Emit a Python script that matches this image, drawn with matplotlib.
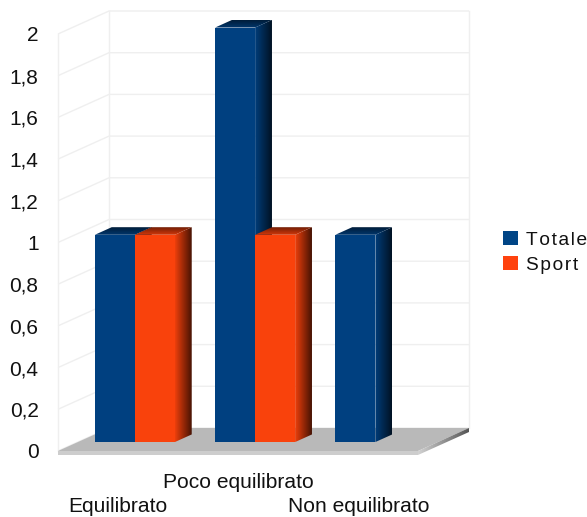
import matplotlib
matplotlib.use('Agg')
import matplotlib.pyplot as plt
import numpy as np
from matplotlib.colors import to_rgb
from matplotlib.patches import Patch, Polygon

plt.rcParams['font.family'] = ['Liberation Sans', 'DejaVu Sans']

categories = ['Equilibrato', 'Poco equilibrato', 'Non equilibrato']
series_names = ['Totale', 'Sport']
totale = [1, 2, 1]
sport = [1, 1, 0]
ticks = [0, 0.2, 0.4, 0.6, 0.8, 1, 1.2, 1.4, 1.6, 1.8, 2]
tick_labels = ['0', '0,2', '0,4', '0,6', '0,8', '1', '1,2', '1,4', '1,6', '1,8', '2']

BLUE = '#004080'
ORANGE = '#f9420c'
W, H = 587, 517
PX_X = 120.25   # pixels per category
PX_Y = 208.5    # pixels per unit of value
X0, Y0 = 115, 451  # pixel position of category 0, value 0 on the front plane

# oblique depth: full floor depth in data units
DEPTH_X = 51 / PX_X
DEPTH_Y = 23 / PX_Y
BAR_W = 40 / PX_X
BAR_FRONT = 0.39
BAR_BACK = 0.72
# bars stand inside the floor, so their heights are slightly foreshortened
BAR_SCALE = 0.994


def project(x, v, t):
    return x + t * DEPTH_X, v + t * DEPTH_Y


def shade(color, k):
    r, g, b = to_rgb(color)
    return (r * k, g * k, b * k)


def gradient_poly(ax, verts, start, end, vertical=False, zorder=4):
    # linear gradient across the bounding box of verts, clipped to the polygon
    pts = np.array(verts)
    ramp = np.linspace(0, 1, 64)[:, None]
    colors = (1 - ramp) * np.array(start) + ramp * np.array(end)
    img = colors[:, None, :] if vertical else colors[None, :, :]
    extent = (pts[:, 0].min(), pts[:, 0].max(), pts[:, 1].min(), pts[:, 1].max())
    im = ax.imshow(img, extent=extent, origin='lower', aspect='auto',
                   interpolation='bilinear', zorder=zorder)
    im.set_clip_path(Polygon(verts, closed=True, transform=ax.transData))


def draw_bar(ax, x, value, color):
    height = value * BAR_SCALE
    left, base = project(x, 0, BAR_FRONT)
    ax.bar(left, height, BAR_W, bottom=base, align='edge', color=color, zorder=4)

    right = x + BAR_W
    side = [project(right, 0, BAR_FRONT), project(right, 0, BAR_BACK),
            project(right, height, BAR_BACK), project(right, height, BAR_FRONT)]
    gradient_poly(ax, side, shade(color, 0.95), shade(color, 0.28))

    top = [project(x, height, BAR_FRONT), project(right, height, BAR_FRONT),
           project(right, height, BAR_BACK), project(x, height, BAR_BACK)]
    gradient_poly(ax, top, shade(color, 0.85), shade(color, 0.45), vertical=True)


fig = plt.figure(figsize=(W / 100, H / 100), dpi=100)
ax = fig.add_axes([0, 0, 1, 1])
limits = ((0 - X0) / PX_X, (W - X0) / PX_X), ((Y0 - H) / PX_Y, Y0 / PX_Y)
ax.axis('off')

x_left = (58 - X0) / PX_X
x_right = (418 - X0) / PX_X
grid = '#efefef'

# walls and gridlines
for v in ticks:
    xs, ys = zip(project(x_left, v, 0), project(x_left, v, 1), project(x_right, v, 1))
    ax.plot(xs, ys, color=grid, lw=1, zorder=1, solid_capstyle='butt')
for x, t in [(x_left, 0), (x_left, 1), (x_right, 1)]:
    xs, ys = zip(project(x, 0, t), project(x, 2, t))
    ax.plot(xs, ys, color=grid, lw=1, zorder=1)

# floor slab
lip = 4 / PX_Y
floor = [project(x_left, 0, 0), project(x_right, 0, 0), project(x_right, 0, 1), project(x_left, 0, 1)]
ax.add_patch(Polygon(floor, closed=True, facecolor='#b9b9b9', edgecolor='none', zorder=2))
front_lip = [project(x_left, 0, 0), project(x_right, 0, 0),
             project(x_right, -lip, 0), project(x_left, -lip, 0)]
ax.add_patch(Polygon(front_lip, closed=True, facecolor='#cdcdcd', edgecolor='none', zorder=2))
side_lip = [project(x_right, 0, 0), project(x_right, 0, 1),
            project(x_right, -lip, 1), project(x_right, -lip, 0)]
gradient_poly(ax, side_lip, to_rgb('#d2d2d2'), to_rgb('#555555'), zorder=2)

# bars, left to right so each one overlaps the side of its neighbour
for i in range(len(categories)):
    draw_bar(ax, i - BAR_W, totale[i], BLUE)
    if sport[i] > 0:
        draw_bar(ax, i, sport[i], ORANGE)

# value labels, set on the baseline so the decimal comma does not shift them
label_x = (38.5 - X0) / PX_X
label_dy = -7.5 / PX_Y
for v, lab in zip(ticks, tick_labels):
    ax.text(label_x, v + label_dy, lab, ha='right', va='baseline', fontsize=15, color='#111111')

# category labels, the middle one staggered upwards
for i, name in enumerate(categories):
    py = 482 if i % 2 else 506
    ax.text(i + 3 / PX_X, (Y0 - py) / PX_Y, name, ha='center', va='center', fontsize=15.1, color='#111111')

handles = [Patch(facecolor='#004586', label='T\u200ao\u200at\u200aa\u200al\u200ae'),
           Patch(facecolor='#ff420e', label='S\u200ap\u200ao\u200ar\u200at')]
ax.legend(handles=handles, loc='upper left', bbox_to_anchor=(503.5 / W, 1 - 231 / H), frameon=False,
          fontsize=13.8, handlelength=0.75, handleheight=0.75, handletextpad=0.4, labelspacing=0.38,
          borderpad=0, borderaxespad=0, labelcolor='#111111')

# imshow resets the view, so the limits go last
ax.set_xlim(*limits[0])
ax.set_ylim(*limits[1])

fig.savefig('out.png', dpi=100)
